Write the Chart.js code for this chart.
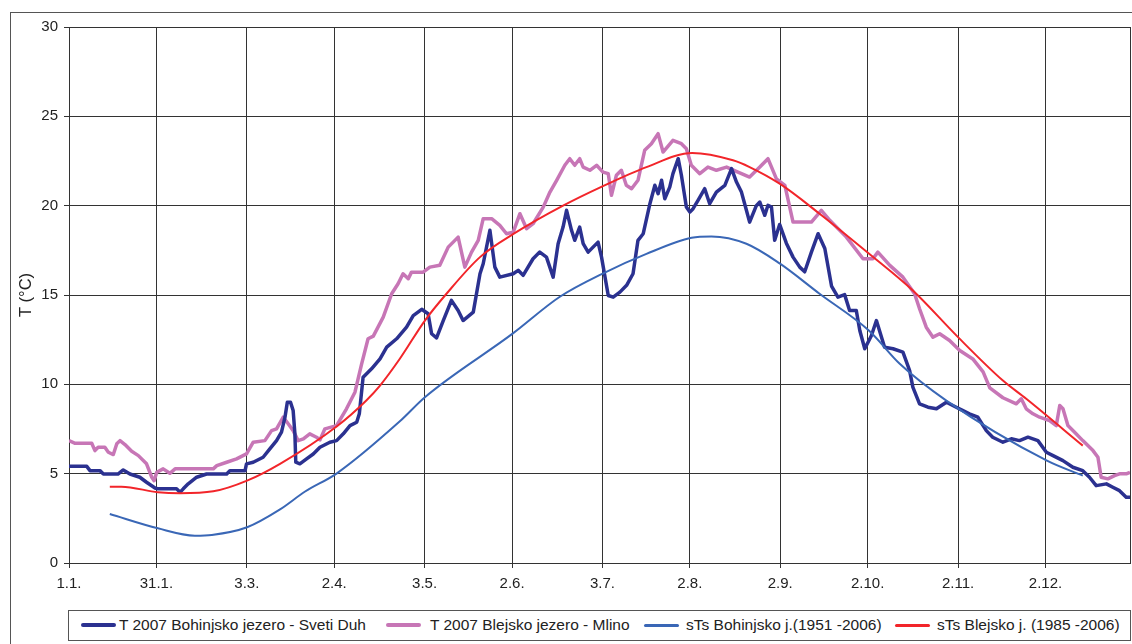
<!DOCTYPE html>
<html>
<head>
<meta charset="utf-8">
<script src="https://cdn.jsdelivr.net/npm/chart.js@4.4.1/dist/chart.umd.min.js"></script>
<style>
  html, body { margin:0; padding:0; background:#fff; overflow:hidden; }
  body { width:1132px; height:644px; position:relative; font-family:"Liberation Sans", Arial, sans-serif; }
  #frame { position:absolute; left:10px; top:12px; width:1200px; height:700px; border:1.5px solid #555; box-sizing:border-box; }
  #wrap { position:absolute; left:0; top:0; width:1132px; height:644px; }
  #legend { position:absolute; left:68px; top:610px; width:1063px; height:31px; border:1.5px solid #555; box-sizing:border-box; background:#fff; }
  .ln { position:absolute; top:13px; width:35px; border-radius:2px; }
  .lt { position:absolute; top:5px; font-size:15.5px; color:#222; white-space:nowrap; }
</style>
</head>
<body>
<div id="frame"></div>
<div id="wrap"><canvas id="c" width="1132" height="644"></canvas></div>
<div id="legend"></div>
<script>
// ---- data (day of year, temperature °C) ----
const tickDays   = [1, 31, 62, 92, 123, 153, 184, 214, 245, 275, 306, 336];
const tickLabels = ['1.1.', '31.1.', '3.3.', '2.4.', '3.5.', '2.6.', '3.7.', '2.8.', '2.9.', '2.10.', '2.11.', '2.12.'];

const seriesNames = [
  'T 2007 Bohinjsko jezero  - Sveti Duh',
  'T 2007 Blejsko jezero  - Mlino',
  'sTs Bohinjsko j.(1951 -2006)',
  'sTs Blejsko j. (1985 -2006)'
];

const bohDays = [1,7.1,8.2,11.6,12.8,17.8,19.6,21.9,25.3,27.6,30.5,31.6,37.9,39.1,40.2,41.9,44.8,48.2,55.1,56.2,61.4,61.9,64.2,67.6,69.9,72.2,73.9,75.1,75.9,77.0,77.9,78.5,78.8,80.2,82.5,84.8,87.1,90.5,92.8,95.1,97.4,99.7,100.6,101.9,104.8,107.7,110.0,113.4,116.8,119.1,122.0,124.2,125.4,127.1,129.4,132.2,134.5,136.2,139.7,142.0,143.1,145.4,147.1,148.8,153.4,155.1,156.8,160.2,162.5,164.8,167.1,168.8,170.5,171.7,173.4,174.5,176.2,177.4,179.1,182.5,183.7,186.0,187.7,190.0,192.3,194.5,196.2,198.0,200.3,202.0,203.1,204.3,205.4,207.1,208.2,210.0,211.1,212.8,214.0,215.1,216.8,219.1,220.8,223.1,226.0,228.3,230.0,231.7,233.4,234.5,236.8,238.0,239.7,240.8,242.0,243.1,244.8,247.1,249.4,251.7,253.4,255.7,258.0,260.3,262.6,264.8,267.1,268.8,271.1,272.3,274.0,276.3,278.0,280.8,283.7,287.1,289.4,290.5,292.8,295.7,298.6,302.0,305.4,307.7,309.9,312.8,315.7,317.9,321.4,324.3,327.1,330.0,333.4,336.3,338.6,342.0,345.4,348.8,351.1,353.4,356.9,359.1,361.4,363.7,365];
const bohT    = [5.41,5.41,5.17,5.17,4.98,4.98,5.21,4.98,4.8,4.52,4.2,4.15,4.15,3.96,4.15,4.43,4.8,4.98,4.98,5.17,5.17,5.55,5.64,5.92,6.39,6.85,7.32,8.16,9.0,9.0,8.53,7.23,5.64,5.55,5.83,6.1,6.48,6.76,6.85,7.23,7.69,7.88,8.35,10.4,10.87,11.43,12.08,12.55,13.2,13.85,14.2,13.95,12.83,12.6,13.57,14.7,14.13,13.57,14.04,16.19,16.75,18.62,16.56,16.0,16.19,16.38,16.1,17.03,17.4,17.12,16.0,17.87,18.8,19.74,18.62,18.06,18.8,17.87,17.4,17.96,17.12,14.97,14.88,15.16,15.54,16.19,18.06,18.43,20.11,21.14,20.67,21.42,20.39,21.04,21.79,22.63,21.7,19.92,19.64,19.83,20.3,20.95,20.11,20.76,21.14,22.07,21.32,20.76,19.74,19.08,20.0,20.2,19.46,20.02,19.92,18.06,18.95,17.9,17.12,16.56,16.3,17.4,18.43,17.6,15.5,14.88,15.02,14.13,14.13,13.01,11.99,12.73,13.57,12.08,11.99,11.8,10.77,9.84,8.91,8.72,8.63,9.0,8.72,8.53,8.35,8.16,7.41,7.04,6.76,6.95,6.85,7.04,6.85,6.2,6.01,5.73,5.36,5.17,4.8,4.33,4.43,4.24,4.05,3.68,3.68];

const bleDays = [1,3.1,8.8,9.9,11.0,13.3,14.5,16.2,17.4,18.5,20.2,22.5,24.8,27.6,29.4,30.2,31.1,33.3,35.6,37.4,50.5,51.7,55.1,58.5,61.9,64.2,68.2,70.5,72.2,74.5,76.2,77.9,79.6,81.4,83.6,85.9,87.1,88.8,92.8,96.2,99.1,101.4,103.6,105.4,108.8,111.7,113.9,115.6,117.4,118.5,122.5,124.8,128.2,131.1,134.5,136.8,139.1,141.4,143.1,146.0,148.8,151.1,153.4,155.7,158.0,160.2,163.7,166.0,168.3,171.1,172.8,174.5,176.2,177.4,179.7,182.0,184.2,186.0,187.1,188.8,190.5,192.2,194.0,196.2,198.5,200.8,203.1,204.8,208.2,211.1,212.8,214.5,217.4,220.2,223.1,226.6,230.5,234.5,238.0,240.8,243.7,246.6,249.4,255.7,259.1,262.0,267.7,273.4,276.8,278.5,282.6,287.1,291.1,292.8,295.1,297.4,299.7,303.1,306.6,311.2,314.6,316.9,321.4,326.0,327.7,329.4,331.7,334.0,337.4,339.7,340.9,342.0,343.7,346.0,348.8,352.3,354.0,355.1,357.4,359.7,361.4,363.7,365];
const bleT    = [6.85,6.7,6.7,6.29,6.48,6.48,6.2,6.07,6.67,6.85,6.63,6.25,6.01,5.55,4.8,4.61,5.08,5.27,5.02,5.27,5.27,5.45,5.64,5.83,6.11,6.76,6.85,7.41,7.51,8.16,7.79,7.41,6.85,6.95,7.23,7.04,6.89,7.51,7.69,8.63,9.56,11.15,12.55,12.7,13.76,15.07,15.63,16.19,15.91,16.28,16.28,16.56,16.66,17.68,18.24,16.56,17.4,18.06,19.27,19.27,18.9,18.43,18.52,19.55,18.71,18.99,19.92,20.76,21.42,22.26,22.63,22.26,22.63,22.16,21.98,22.26,21.88,21.79,20.58,21.7,21.98,21.14,20.95,21.42,23.1,23.47,24.03,23.0,23.66,23.47,23.19,22.26,21.79,22.16,21.98,22.16,21.88,21.6,22.16,22.63,21.5,21.14,19.08,19.08,19.74,19.18,18.24,17.03,17.03,17.4,16.66,16.0,15.07,14.23,13.2,12.64,12.83,12.45,11.89,11.4,10.7,9.8,9.25,8.91,9.19,8.63,8.35,8.16,7.97,7.69,8.81,8.63,7.69,7.32,6.85,6.29,5.92,4.8,4.71,4.89,4.99,4.99,5.08];

const sBohDays = [15,31.5,44.2,50,62.1,73.4,82,92.9,114.5,123.1,153.3,169.4,184.1,199.1,214.6,221.4,233.4,244.8,258.5,275.5,286,302,336.5,348.8];
const sBohT    = [2.74,1.94,1.53,1.57,2.0,3.0,4.0,5.02,7.93,9.28,12.85,14.9,16.2,17.3,18.2,18.28,17.87,16.77,15.07,13.0,11.15,9.09,5.73,4.89];

const sBleDays = [15,19,31.5,39,50.5,62.1,73.4,92.8,103,107.7,114.5,123.1,130.5,142,153.6,170.5,184,199.1,214.8,228.8,234.5,244.8,258.5,275.5,290.5,306,321.4,329.4,348.8];
const sBleT    = [4.27,4.27,3.96,3.9,4.01,4.61,5.55,7.64,9.1,9.93,11.43,13.57,15.07,17.12,18.43,20.0,21.08,22.16,22.95,22.54,22.16,21.23,19.55,17.31,15.25,12.64,10.21,9.19,6.57];

const colors = ['#2B3190', '#C776B6', '#3A67B6', '#F2252A'];
const widths = [3.5, 3.5, 2, 2];

const pts = (d, v) => d.map((x, i) => ({x: x, y: v[i]}));

const frameBorder = {
  id: 'frameBorder',
  afterDraw(chart) {
    const {ctx, chartArea: a} = chart;
    ctx.save();
    ctx.strokeStyle = '#333';
    ctx.lineWidth = 1;
    ctx.beginPath();
    ctx.moveTo(Math.round(a.right) + 0.5, a.top);
    ctx.lineTo(Math.round(a.right) + 0.5, a.bottom);
    ctx.stroke();
    ctx.restore();
  }
};

const font = {family: '"Liberation Sans", Arial, sans-serif', size: 15};

new Chart(document.getElementById('c'), {
  type: 'line',
  data: {
    datasets: [
      {label: seriesNames[3], data: pts(sBleDays, sBleT), borderColor: colors[3], borderWidth: widths[3], cubicInterpolationMode: 'monotone', pointRadius: 0, order: 1},
      {label: seriesNames[2], data: pts(sBohDays, sBohT), borderColor: colors[2], borderWidth: widths[2], cubicInterpolationMode: 'monotone', pointRadius: 0, order: 2},
      {label: seriesNames[0], data: pts(bohDays, bohT), borderColor: colors[0], borderWidth: widths[0], tension: 0, pointRadius: 0, borderJoinStyle: 'round', order: 3},
      {label: seriesNames[1], data: pts(bleDays, bleT), borderColor: colors[1], borderWidth: widths[1], tension: 0, pointRadius: 0, borderJoinStyle: 'round', order: 4}
    ]
  },
  options: {
    responsive: false,
    animation: false,
    layout: {padding: {left: 0, top: 27, right: 2, bottom: 0}},
    plugins: {legend: {display: false}, tooltip: {enabled: false}},
    scales: {
      x: {
        type: 'linear', min: 1, max: 365,
        afterBuildTicks: (s) => { s.ticks = tickDays.map(v => ({value: v})); },
        afterFit: (s) => { s.height = 81; },
        ticks: {
          autoSkip: false, maxRotation: 0, padding: 7, color: '#222', font: font,
          callback: (v) => { const i = tickDays.indexOf(v); return i >= 0 ? tickLabels[i] : ''; }
        },
        grid: {color: '#333', lineWidth: 1, tickLength: 5, drawTicks: true},
        border: {color: '#333', width: 1}
      },
      y: {
        min: 0, max: 30,
        afterFit: (s) => { s.width = 69; },
        ticks: {stepSize: 5, padding: 6, color: '#222', font: font},
        grid: {color: '#333', lineWidth: 1, tickLength: 5, drawTicks: true},
        border: {color: '#333', width: 1},
        title: {display: true, text: 'T (°C)', color: '#222', font: {family: font.family, size: 16.5}, padding: {top: 17, bottom: 0}}
      }
    }
  },
  plugins: [frameBorder]
});

// ---- legend (HTML) ----
const legendPos = [
  {line: 12, text: 50},
  {line: 317, text: 361},
  {line: 575, text: 617},
  {line: 826, text: 868}
];
const lg = document.getElementById('legend');
seriesNames.forEach((n, i) => {
  const ln = document.createElement('div');
  ln.className = 'ln';
  ln.style.left = legendPos[i].line + 'px';
  ln.style.height = (widths[i] + 1) + 'px';
  ln.style.top = (14 - (widths[i] + 1) / 2) + 'px';
  ln.style.background = colors[i];
  lg.appendChild(ln);
  const t = document.createElement('div');
  t.className = 'lt';
  t.style.left = legendPos[i].text + 'px';
  t.textContent = n;
  lg.appendChild(t);
});
</script>
</body>
</html>
